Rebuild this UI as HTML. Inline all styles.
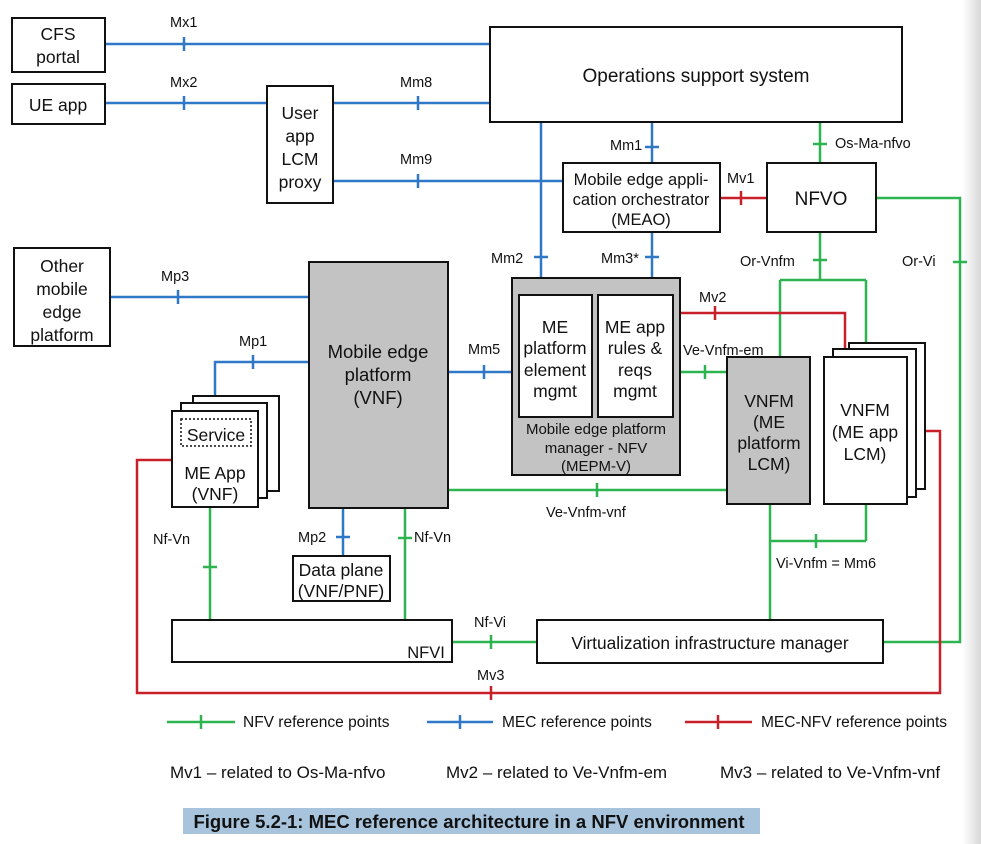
<!DOCTYPE html>
<html><head><meta charset="utf-8"><style>
html,body{margin:0;padding:0;background:#fff;}
svg{display:block;font-family:"Liberation Sans",Arial,sans-serif;}
</style></head><body>
<svg width="981" height="844" viewBox="0 0 981 844" xmlns="http://www.w3.org/2000/svg">
<defs><linearGradient id="sh" x1="0" x2="1"><stop offset="0" stop-color="#fff"/><stop offset="1" stop-color="#d8d8d8"/></linearGradient></defs>
<rect x="962" y="0" width="19" height="844" fill="url(#sh)"/>
<g fill="none" stroke-width="2.5">
<g stroke="#2f78c8">
<path d="M105 44H490M184 37v14"/>
<path d="M105 103H267M184 96v14"/>
<path d="M333 103H490M418 96v14"/>
<path d="M333 181H563M418 174v14"/>
<path d="M541 122V278M534 257h14"/>
<path d="M652 122V163M645 147h14"/>
<path d="M652 232V278M645 257h14"/>
<path d="M110 297H309M178 290v14"/>
<path d="M309 362H215V411M253 355v14"/>
<path d="M448 372H512M484 365v14"/>
<path d="M343 508V556M336 537h14"/>
<path d="M427 722H493M460 715v14"/>
</g>
<g stroke="#2db34f">
<path d="M820 122V163M813 144h14"/>
<path d="M820 232V280M813 260h14"/>
<path d="M780 280H866M780 280V357M866 280V342"/>
<path d="M876 198H960V642H883M953 262h14"/>
<path d="M680 372H727M705 365v14"/>
<path d="M448 490H727M597 483v14"/>
<path d="M210 507V620M203 567h14"/>
<path d="M405 508V620M398 538h14"/>
<path d="M452 642H537M491 635v14"/>
<path d="M770 504V620M770 541H866M866 504V541M816 534v14"/>
<path d="M167 722H235M201 715v14"/>
</g>
<g stroke="#c8202a">
<path d="M720 198H767M741 191v14"/>
<path d="M680 313H845V349M715 306v14"/>
<path d="M172 460H137V693H940V431H906M491 686v14"/>
<path d="M685 722H752M718 715v14"/>
</g>
</g>
<g stroke="#111" stroke-width="2" fill="#fff">
<rect x="12" y="18" width="93" height="54"/>
<rect x="12" y="84" width="93" height="40"/>
<rect x="267" y="86" width="66" height="117"/>
<rect x="490" y="27" width="412" height="95"/>
<rect x="563" y="163" width="157" height="69"/>
<rect x="767" y="163" width="109" height="69"/>
<rect x="14" y="248" width="96" height="98"/>
<rect x="309" y="262" width="139" height="246" fill="#c3c3c3"/>
<rect x="512" y="278" width="168" height="197" fill="#c3c3c3"/>
<rect x="519" y="295" width="73" height="122"/>
<rect x="598" y="295" width="75" height="122"/>
<rect x="727" y="357" width="83" height="147" fill="#c3c3c3"/>
<rect x="849" y="343" width="76" height="146"/>
<rect x="833" y="349" width="83" height="148"/>
<rect x="824" y="357" width="83" height="147"/>
<rect x="193" y="396" width="86" height="95"/>
<rect x="181" y="403" width="86" height="95"/>
<rect x="172" y="411" width="86" height="96"/>
<rect x="181" y="419" width="70" height="27" stroke-dasharray="2 2" stroke-width="1.5"/>
<rect x="293" y="556" width="97" height="45"/>
<rect x="172" y="620" width="280" height="42"/>
<rect x="537" y="620" width="346" height="43"/>
</g>
<g font-size="17.5" fill="#111" text-anchor="middle">
<text x="58" y="40">CFS</text><text x="58" y="63">portal</text>
<text x="58" y="111">UE app</text>
<text x="300" y="119">User</text><text x="300" y="142">app</text><text x="300" y="165">LCM</text><text x="300" y="188">proxy</text>
<text x="696" y="82" font-size="19">Operations support system</text>
<text x="62" y="272">Other</text><text x="62" y="295">mobile</text><text x="62" y="318">edge</text><text x="62" y="341">platform</text>
<text x="378" y="358" font-size="18.5">Mobile edge</text><text x="378" y="381" font-size="18.5">platform</text><text x="378" y="404" font-size="18.5">(VNF)</text>
<text x="555" y="333">ME</text><text x="555" y="354">platform</text><text x="555" y="376">element</text><text x="555" y="397">mgmt</text>
<text x="635" y="333">ME app</text><text x="635" y="354">rules &amp;</text><text x="635" y="376">reqs</text><text x="635" y="397">mgmt</text>
<text x="769" y="407">VNFM</text><text x="769" y="428">(ME</text><text x="769" y="449">platform</text><text x="769" y="470">LCM)</text>
<text x="865" y="416">VNFM</text><text x="865" y="438">(ME app</text><text x="865" y="460">LCM)</text>
<text x="216" y="441">Service</text>
<text x="215" y="479">ME App</text><text x="215" y="500">(VNF)</text>
<text x="341" y="576">Data plane</text><text x="341" y="597">(VNF/PNF)</text>
<text x="710" y="649" font-size="17.3">Virtualization infrastructure manager</text>
<text x="641" y="185" font-size="16.5">Mobile edge appli-</text><text x="641" y="205" font-size="16.5">cation orchestrator</text><text x="641" y="225" font-size="16.5">(MEAO)</text>
<text x="821" y="205" font-size="19">NFVO</text>
<text x="596" y="434" font-size="15">Mobile edge platform</text><text x="596" y="453" font-size="15">manager - NFV</text><text x="596" y="471" font-size="15">(MEPM-V)</text>
<text x="426" y="658" font-size="16.5">NFVI</text>
</g>
<g font-size="14.5" fill="#111">
<text x="170" y="27">Mx1</text><text x="170" y="87">Mx2</text><text x="400" y="87">Mm8</text><text x="400" y="164">Mm9</text>
<text x="610" y="150">Mm1</text><text x="835" y="148">Os-Ma-nfvo</text><text x="727" y="183">Mv1</text>
<text x="491" y="263">Mm2</text><text x="601" y="263">Mm3*</text><text x="740" y="266">Or-Vnfm</text><text x="902" y="266">Or-Vi</text>
<text x="161" y="281">Mp3</text><text x="699" y="302">Mv2</text><text x="239" y="346">Mp1</text><text x="468" y="354">Mm5</text>
<text x="683" y="355">Ve-Vnfm-em</text><text x="546" y="517">Ve-Vnfm-vnf</text>
<text x="153" y="544">Nf-Vn</text><text x="298" y="542">Mp2</text><text x="414" y="542">Nf-Vn</text>
<text x="776" y="568">Vi-Vnfm = Mm6</text><text x="474" y="627">Nf-Vi</text><text x="477" y="680">Mv3</text>
<text x="243" y="727" font-size="15.5">NFV reference points</text>
<text x="502" y="727" font-size="15.5">MEC reference points</text>
<text x="761" y="727" font-size="15.5">MEC-NFV reference points</text>
<text x="170" y="778" font-size="17">Mv1 – related to Os-Ma-nfvo</text>
<text x="446" y="778" font-size="17">Mv2 – related to Ve-Vnfm-em</text>
<text x="720" y="778" font-size="17">Mv3 – related to Ve-Vnfm-vnf</text>
</g>
<rect x="183" y="808" width="577" height="26" fill="#a8c4dd"/>
<text x="469" y="828" font-size="18.5" font-weight="bold" text-anchor="middle" fill="#111">Figure 5.2-1: MEC reference architecture in a NFV environment</text>
</svg>
</body></html>
